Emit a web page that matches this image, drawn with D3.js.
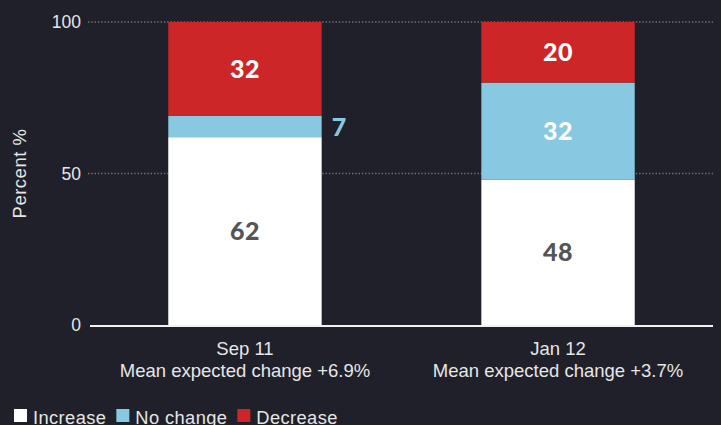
<!DOCTYPE html>
<html>
<head>
  <meta charset="utf-8">
  <script src="https://d3js.org/d3.v7.min.js"></script>
  <style>
    body { margin: 0; background: #1f2029; }
    svg { display: block; background: #1f2029; font-family: "Liberation Sans", Arial, sans-serif; }
  </style>
</head>
<body>
  <script>
    var periods = ["Sep 11", "Jan 12"];
    var subtitles = ["Mean expected change +6.9%", "Mean expected change +3.7%"];
    var increase = [62, 48];
    var noChange = [7, 32];
    var decrease = [32, 20];
    var seriesNames = ["Increase", "No change", "Decrease"];
    var seriesColors = ["#ffffff", "#88c9e1", "#cc2629"];
    var labelColors = ["#555555", "#ffffff", "#ffffff"];
    var yTicks = [0, 50, 100];

    var width = 721, height = 425;
    var svg = d3.select("body").append("svg")
      .attr("width", width)
      .attr("height", height);

    var x = d3.scaleBand().domain(periods).range([90, 713])
      .paddingInner(0.51).paddingOuter(0.25);
    var y = d3.scaleLinear().domain([0, 100]).range([325, 22]);

    // dotted gridlines
    svg.selectAll(".grid").data(yTicks.filter(d => d > 0)).enter()
      .append("line")
      .attr("x1", 88).attr("x2", 713)
      .attr("y1", d => y(d)).attr("y2", d => y(d))
      .attr("stroke", "#6f727a")
      .attr("stroke-width", 1.5)
      .attr("stroke-dasharray", "1.4,1.9");

    // y tick labels
    svg.selectAll(".ytick").data(yTicks).enter()
      .append("text")
      .attr("x", 81).attr("y", d => y(d) + 6)
      .attr("text-anchor", "end")
      .attr("fill", "#e6e6e6")
      .attr("font-size", 17.5)
      .text(d => d);

    svg.append("text")
      .attr("transform", "translate(26," + y(50) + ") rotate(-90)")
      .attr("text-anchor", "middle")
      .attr("fill", "#e6e6e6")
      .attr("font-size", 18.5)
      .attr("letter-spacing", 0.5)
      .text("Percent %");

    // stacked data
    var rows = periods.map(function(p, i) {
      return { period: p, vals: [increase[i], noChange[i], decrease[i]] };
    });

    rows.forEach(function(r, i) {
      var base = 0;
      r.vals.forEach(function(v, k) {
        var y0 = base, y1 = Math.min(base + v, 100);
        base += v;
        svg.append("rect")
          .attr("x", x(r.period))
          .attr("width", x.bandwidth())
          .attr("y", y(y1))
          .attr("height", y(y0) - y(y1))
          .attr("fill", seriesColors[k]);
        var small = v < 10;
        svg.append("text")
          .attr("x", small ? x(r.period) + x.bandwidth() + 10 : x(r.period) + x.bandwidth() / 2)
          .attr("y", (y(y0) + y(y1)) / 2 + 9)
          .attr("text-anchor", small ? "start" : "middle")
          .attr("fill", small ? seriesColors[k] : labelColors[k])
          .attr("font-family", "Lato, sans-serif")
          .attr("font-weight", 900)
          .attr("font-size", 25)
          .attr("letter-spacing", 0.5)
          .text(v);
      });
    });

    // baseline
    svg.append("line")
      .attr("x1", 90).attr("x2", 713)
      .attr("y1", y(0) + 1).attr("y2", y(0) + 1)
      .attr("stroke", "#f2f2f2").attr("stroke-width", 2);

    // x labels
    periods.forEach(function(p, i) {
      var cx = x(p) + x.bandwidth() / 2;
      svg.append("text").attr("x", cx).attr("y", 355)
        .attr("text-anchor", "middle").attr("fill", "#e6e6e6").attr("font-size", 18.5)
        .text(p);
      svg.append("text").attr("x", cx).attr("y", 377)
        .attr("text-anchor", "middle").attr("fill", "#e6e6e6").attr("font-size", 18.5)
        .text(subtitles[i]);
    });

    // legend
    var lx = 14;
    var legend = svg.append("g");
    seriesNames.forEach(function(n, k) {
      legend.append("rect").attr("x", lx).attr("y", 409).attr("width", 13).attr("height", 13)
        .attr("fill", seriesColors[k]);
      var t = legend.append("text").attr("x", lx + 19).attr("y", 424)
        .attr("fill", "#e6e6e6").attr("font-size", 18.3).attr("letter-spacing", 0.4).text(n);
      lx += 19 + t.node().getComputedTextLength() + 10;
    });
  </script>
</body>
</html>
